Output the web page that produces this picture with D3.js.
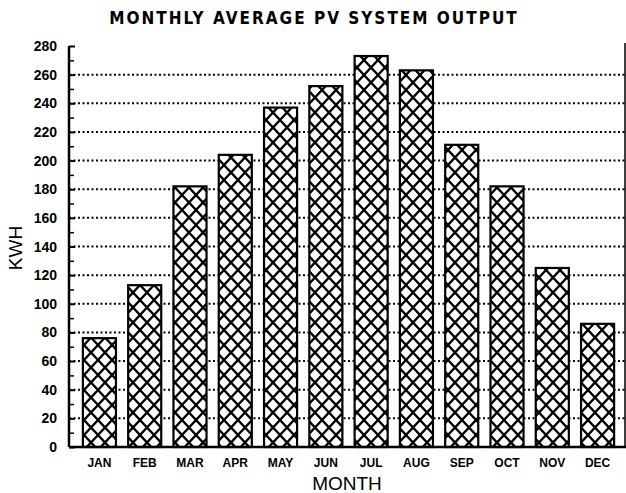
<!DOCTYPE html>
<html>
<head>
<meta charset="utf-8">
<script src="https://cdn.jsdelivr.net/npm/d3@7"></script>
<style>
  body { margin: 0; background: #fff; }
  svg { display: block; }
</style>
</head>
<body>
<svg id="chart"></svg>
<script>
// chart data
const months = ["JAN", "FEB", "MAR", "APR", "MAY", "JUN", "JUL", "AUG", "SEP", "OCT", "NOV", "DEC"];
const kwh = [76, 113, 182, 204, 237, 252, 273, 263, 211, 182, 125, 86];
const yTicks = [0, 20, 40, 60, 80, 100, 120, 140, 160, 180, 200, 220, 240, 260, 280];
const minorTicks = [10, 30, 50, 70, 90, 110, 130, 150, 170, 190, 210, 230, 250, 270];

const W = 626, H = 493;
const plotLeft = 69, plotRight = 625, plotTop = 46, plotBottom = 447;

const svg = d3.select("#chart").attr("width", W).attr("height", H);

// cross hatch pattern (slightly taller than wide, like the plotter fill)
const pw = 14, ph = 15;
const pat = svg.append("defs").append("pattern")
  .attr("id", "hatch")
  .attr("patternUnits", "userSpaceOnUse")
  .attr("width", pw)
  .attr("height", ph);
pat.append("rect").attr("width", pw).attr("height", ph).attr("fill", "#fff");
pat.append("path")
  .attr("d", `M${-pw},${-ph} L${2 * pw},${2 * ph} M${-pw},${2 * ph} L${2 * pw},${-ph}`)
  .attr("stroke", "#000")
  .attr("stroke-width", 2.3);

const x = d3.scaleBand()
  .domain(months)
  .range([77, 620])
  .paddingInner(0.27)
  .paddingOuter(0.13);

const y = d3.scaleLinear()
  .domain([0, 280])
  .range([plotBottom, plotTop]);

// dotted gridlines
svg.append("g")
  .selectAll("line")
  .data(yTicks.filter(d => d > 0 && d < 280))
  .join("line")
  .attr("x1", plotLeft)
  .attr("x2", plotRight)
  .attr("y1", d => y(d))
  .attr("y2", d => y(d))
  .attr("stroke", "#000")
  .attr("stroke-width", 2)
  .attr("stroke-dasharray", "2,2.5");

// bars
svg.append("g")
  .selectAll("rect")
  .data(months)
  .join("rect")
  .attr("x", d => x(d))
  .attr("width", x.bandwidth())
  .attr("y", (d, i) => y(kwh[i]))
  .attr("height", (d, i) => y(0) - y(kwh[i]))
  .attr("fill", "url(#hatch)")
  .attr("stroke", "#000")
  .attr("stroke-width", 2.2);

// left axis
const yAxis = svg.append("g")
  .attr("transform", `translate(${plotLeft},0)`)
  .call(d3.axisRight(y).tickValues(yTicks).tickSize(6).tickFormat(""));
yAxis.select(".domain").attr("stroke-width", 2.5).attr("d", `M0,${plotTop}V${plotBottom}`);
yAxis.selectAll(".tick line").attr("stroke-width", 2);

svg.append("g")
  .attr("transform", `translate(${plotLeft},0)`)
  .call(d3.axisRight(y).tickValues(minorTicks).tickSize(5).tickFormat(""))
  .call(g => g.select(".domain").remove())
  .selectAll(".tick line").attr("stroke-width", 1.5);

// y tick labels
svg.append("g")
  .selectAll("text")
  .data(yTicks)
  .join("text")
  .attr("x", 57)
  .attr("y", d => y(d) + 5)
  .attr("text-anchor", "end")
  .attr("font-family", "Liberation Sans, Arial, sans-serif")
  .attr("font-weight", "bold")
  .attr("font-size", 14)
  .text(d => d);

// baseline and right border
svg.append("line")
  .attr("x1", plotLeft).attr("x2", W)
  .attr("y1", plotBottom).attr("y2", plotBottom)
  .attr("stroke", "#000").attr("stroke-width", 2.5);
svg.append("line")
  .attr("x1", plotRight).attr("x2", plotRight)
  .attr("y1", 43).attr("y2", plotBottom)
  .attr("stroke", "#000").attr("stroke-width", 1.5);

// month labels
svg.append("g")
  .selectAll("text")
  .data(months)
  .join("text")
  .attr("x", d => x(d) + x.bandwidth() / 2)
  .attr("y", 467)
  .attr("text-anchor", "middle")
  .attr("font-family", "Liberation Sans, Arial, sans-serif")
  .attr("font-weight", "bold")
  .attr("font-size", 12)
  .text(d => d);

// axis titles
svg.append("text")
  .attr("x", 347).attr("y", 490)
  .attr("text-anchor", "middle")
  .attr("font-family", "Liberation Sans, Arial, sans-serif")
  .attr("font-size", 19)
  .text("MONTH");

svg.append("text")
  .attr("transform", "translate(22,248) rotate(-90)")
  .attr("text-anchor", "middle")
  .attr("font-family", "Liberation Sans, Arial, sans-serif")
  .attr("font-size", 19)
  .text("KWH");

// title
svg.append("text")
  .attr("x", 314).attr("y", 24)
  .attr("text-anchor", "middle")
  .attr("font-family", "DejaVu Sans Condensed, DejaVu Sans, sans-serif")
  .attr("font-weight", "bold")
  .attr("font-size", 17)
  .attr("letter-spacing", 2)
  .text("MONTHLY AVERAGE PV SYSTEM OUTPUT");
</script>
</body>
</html>
